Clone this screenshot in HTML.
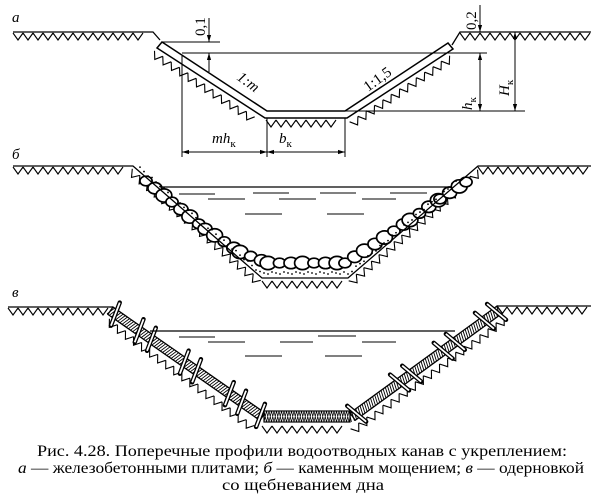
<!DOCTYPE html>
<html><head><meta charset="utf-8"><style>
html,body{margin:0;padding:0;background:#fff;width:600px;height:498px;overflow:hidden}
svg{display:block}
text{font-family:"Liberation Serif",serif;fill:#000}
</style></head><body>
<svg id="s" width="600" height="498" viewBox="0 0 600 498" xmlns="http://www.w3.org/2000/svg" stroke="#000" fill="none" stroke-width="1.3">
<defs>
<marker id="ar" viewBox="0 0 10 10" refX="10" refY="5" markerWidth="7" markerHeight="7" orient="auto-start-reverse"><path d="M0,2 L10,5 L0,8z" fill="#000" stroke="none"/></marker>
</defs>
<g id="g"></g>
<g id="top">
<!-- Panel a -->
<polyline points="13,32 153,32 160,40"/>
<polyline points="452,45 460,32 591,32"/>
<polygon points="162,42 267,111 345,111 448,43 453,49 347,118 265,118 157,48" fill="#fff" stroke-width="1.5"/>
<line x1="162" y1="42" x2="220" y2="42" stroke-width="1"/>
<line x1="182" y1="53" x2="487" y2="53" stroke-width="1"/>
<line x1="345" y1="111" x2="525" y2="111" stroke-width="1"/>
<line x1="209" y1="18" x2="209" y2="42" stroke-width="1" marker-end="url(#ar)"/>
<line x1="209" y1="72" x2="209" y2="53" stroke-width="1" marker-end="url(#ar)"/>
<line x1="480" y1="5" x2="480" y2="32" stroke-width="1" marker-end="url(#ar)"/>
<line x1="480" y1="53" x2="480" y2="111" stroke-width="1" marker-start="url(#ar)" marker-end="url(#ar)"/>
<line x1="515" y1="32" x2="515" y2="111" stroke-width="1" marker-start="url(#ar)" marker-end="url(#ar)"/>
<line x1="182" y1="56" x2="182" y2="157" stroke-width="1"/>
<line x1="267" y1="118" x2="267" y2="157" stroke-width="1"/>
<line x1="345" y1="118" x2="345" y2="157" stroke-width="1"/>
<line x1="182" y1="152" x2="267" y2="152" stroke-width="1" marker-start="url(#ar)" marker-end="url(#ar)"/>
<line x1="267" y1="152" x2="345" y2="152" stroke-width="1" marker-start="url(#ar)" marker-end="url(#ar)"/>
<g stroke="none" font-style="italic" font-size="15">
<text transform="translate(205,36) rotate(-90)" font-style="normal">0,1</text>
<text transform="translate(476,30) rotate(-90)" font-style="normal">0,2</text>
<text transform="translate(236,79) rotate(36)">1:m</text>
<text transform="translate(368,92) rotate(-36)" font-style="normal">1:1,5</text>
<text transform="translate(472,110) rotate(-90)">h<tspan font-size="11" dy="4" font-style="normal">к</tspan></text>
<text transform="translate(509,96) rotate(-90)">H<tspan font-size="11" dy="4" font-style="normal">к</tspan></text>
<text x="212" y="143">mh<tspan font-size="11" dy="4" font-style="normal">к</tspan></text>
<text x="279" y="143">b<tspan font-size="11" dy="4" font-style="normal">к</tspan></text>
<text x="12" y="22">а</text>
<text x="12" y="159">б</text>
<text x="12" y="297">в</text>
</g>
<!-- Panel b -->
<polyline points="13,166 133,166 262,278 348,278 478,166 591,166"/>
<line x1="160" y1="187" x2="452" y2="187" stroke-width="1.2"/>
<g stroke-width="1">
<line x1="179" y1="194" x2="215" y2="194"/><line x1="253" y1="193" x2="289" y2="193"/><line x1="320" y1="193" x2="356" y2="193"/><line x1="390" y1="193" x2="427" y2="193"/>
<line x1="208" y1="199" x2="245" y2="199"/><line x1="279" y1="199" x2="316" y2="199"/><line x1="362" y1="199" x2="396" y2="199"/>
<line x1="245" y1="214" x2="282" y2="214"/><line x1="327" y1="214" x2="364" y2="214"/>
</g>
<!-- Panel c -->
<polyline points="8,307 113,307"/>
<polyline points="497,306 591,306"/>
<line x1="150" y1="331" x2="455" y2="331" stroke-width="1.2"/>
<g stroke-width="1">
<line x1="179" y1="337" x2="215" y2="337"/><line x1="318" y1="336" x2="356" y2="336"/>
<line x1="208" y1="342" x2="245" y2="342"/><line x1="280" y1="342" x2="313" y2="342"/><line x1="362" y1="342" x2="396" y2="342"/>
<line x1="245" y1="356" x2="282" y2="356"/><line x1="325" y1="356" x2="362" y2="356"/>
</g>
</g>
<!-- caption -->
<g stroke="none" font-size="16">
<text x="37" y="456" textLength="530" lengthAdjust="spacingAndGlyphs">Рис. 4.28. Поперечные профили водоотводных канав с укреплением:</text>
<text x="18" y="473" textLength="566" lengthAdjust="spacingAndGlyphs"><tspan font-style="italic">а</tspan> — железобетонными плитами; <tspan font-style="italic">б</tspan> — каменным мощением; <tspan font-style="italic">в</tspan> — одерновкой</text>
<text x="222" y="490" textLength="162" lengthAdjust="spacingAndGlyphs">со щебневанием дна</text>
</g>
</svg>
<script>
var g=document.getElementById('g'),NS='http://www.w3.org/2000/svg';
function el(n,a,p){var e=document.createElementNS(NS,n);for(var k in a)e.setAttribute(k,a[k]);(p||g).appendChild(e);return e;}
function hatch(x1,y1,x2,y2,len,step,off){
 var dx=x2-x1,dy=y2-y1,L=Math.hypot(dx,dy),ux=dx/L,uy=dy/L,nx=-uy,ny=ux; if(ny<0){nx=-nx;ny=-ny;}
 off=off||0;var d='';
 for(var t=off;t<L-step;t+=step){
  var px=x1+ux*t+nx*1,py=y1+uy*t+ny*1;
  d+='M'+px.toFixed(1)+','+py.toFixed(1)+' l'+(ux*step/2+nx*len).toFixed(1)+','+(uy*step/2+ny*len).toFixed(1)+' l'+(ux*step/2-nx*len).toFixed(1)+','+(uy*step/2-ny*len).toFixed(1);
 }
 el('path',{d:d,'stroke-width':1.1});
}
// panel a
hatch(13,32,153,32,7,10);hatch(460,32,591,32,7,10);
hatch(155,50,263,121,7,10);hatch(266,119,346,119,7,10);hatch(349,121,455,51,7,10);
// panel b
hatch(13,166,133,166,7,10);hatch(478,166,591,166,7,10);
hatch(133,168,262,280,7,10);hatch(262,280,348,280,7,10);hatch(348,280,478,168,7,10);
(function(){
 var pts=[[146,181],[172,202],[205,229],[240,252],[268,263],[345,263],[375,244],[410,220],[440,199],[466,182]];
 var seq=[],i;
 for(i=0;i<pts.length-1;i++){var a=pts[i],b=pts[i+1],L=Math.hypot(b[0]-a[0],b[1]-a[1]);
  for(var t=0;t<L-1;t+=11.5){seq.push([a[0]+(b[0]-a[0])*t/L,a[1]+(b[1]-a[1])*t/L]);}}
 seq.push(pts[pts.length-1]);
 seq.forEach(function(p,k){var r=4.8+((k*7)%3)*0.9;el('ellipse',{cx:p[0],cy:p[1],rx:r+1.3,ry:r,'stroke-width':1.7,fill:'#fff'});});
 for(i=0;i<80;i++){var x=140+i*4;var y;
  if(x<262)y=166+(x-133)*0.87-4; else if(x<348)y=273; else y=278-(x-348)*0.86-4;
  el('circle',{cx:x,cy:y+(i%3)-1,r:0.9,fill:'#000',stroke:'none'});}
})();
// panel c
hatch(8,307,113,307,7,10);hatch(497,306,591,306,7,10);
hatch(110,318,262,430,7,10);hatch(262,425,350,425,7,10);hatch(350,428,505,315,7,10);
(function(){
 function band(x1,y1,x2,y2,w,pegs){
  var dx=x2-x1,dy=y2-y1,L=Math.hypot(dx,dy),ux=dx/L,uy=dy/L,nx=-uy,ny=ux;if(ny<0){nx=-nx;ny=-ny;}
  el('polygon',{points:[x1,y1,x2,y2,x2+nx*w,y2+ny*w,x1+nx*w,y1+ny*w].join(','),'stroke-width':1.3,fill:'#fff'});
  var d='';for(var t=2;t<L;t+=2.6){var px=x1+ux*t,py=y1+uy*t;d+='M'+px.toFixed(1)+','+py.toFixed(1)+' l'+(nx*w-ux*3).toFixed(1)+','+(ny*w-uy*3).toFixed(1);}
  el('path',{d:d,'stroke-width':0.9});
  pegs.forEach(function(t2){var cx=x1+ux*t2+nx*w/2,cy=y1+uy*t2+ny*w/2;
   var a={x1:cx-nx*12-ux*3,y1:cy-ny*12-uy*3,x2:cx+nx*12+ux*3,y2:cy+ny*12+uy*3};
   a['stroke-width']=4.4;a['stroke-linecap']='round';el('line',a);
   var b={x1:a.x1,y1:a.y1,x2:a.x2,y2:a.y2,'stroke-width':1.8,stroke:'#fff'};el('line',b);});
 }
 band(113,307,265,413,9,[6,35,50,90,105,145,160,183]);
 band(350,413,497,306,9,[5,58,73,112,127,163,178]);
 el('rect',{x:264,y:411,width:86,height:11,fill:'#fff','stroke-width':1.2});
 var d='';for(var x=264;x<350;x+=2.5){d+='M'+x+',411 l2.5,11 M'+(x+2.5)+',411 l-2.5,11 ';}
 el('path',{d:d,'stroke-width':0.7});
})();
</script>
</body></html>
